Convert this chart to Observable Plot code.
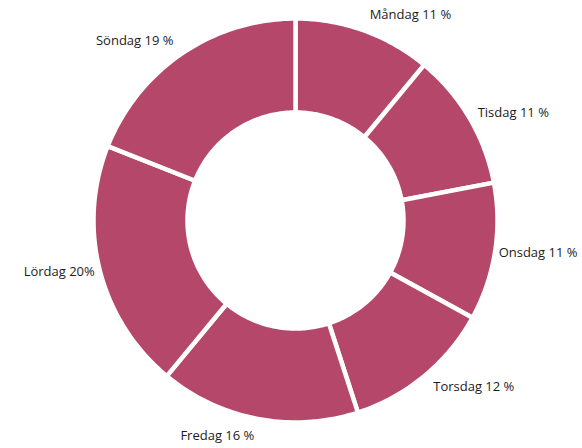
<!DOCTYPE html>
<html>
<head>
<meta charset="utf-8">
<script src="https://cdn.jsdelivr.net/npm/d3@7"></script>
<script src="https://cdn.jsdelivr.net/npm/@observablehq/plot@0.6"></script>
<style>
  html, body { margin: 0; padding: 0; background: #fff; }
  #chart { width: 582px; height: 448px; }
</style>
</head>
<body>
<div id="chart"></div>
<script>
// Data
const days = ["Måndag", "Tisdag", "Onsdag", "Torsdag", "Fredag", "Lördag", "Söndag"];
const shares = [11, 11, 11, 12, 16, 20, 19];
const labels = ["Måndag 11 %", "Tisdag 11 %", "Onsdag 11 %", "Torsdag 12 %", "Fredag 16 %", "Lördag 20%", "Söndag 19 %"];

// Geometry (chart units = pixels)
const R = 202, r = 108;
const total = d3.sum(shares);
const cum = d3.cumsum(shares);

const points = [];
const labelData = [];
days.forEach((day, i) => {
  const a0 = 2 * Math.PI * (cum[i] - shares[i]) / total;
  const a1 = 2 * Math.PI * cum[i] / total;
  const n = 60;
  const ring = [];
  for (let k = 0; k <= n; k++) {
    const a = a0 + (a1 - a0) * k / n;
    ring.push({day, x: R * Math.sin(a), y: -R * Math.cos(a)});
  }
  for (let k = n; k >= 0; k--) {
    const a = a0 + (a1 - a0) * k / n;
    ring.push({day, x: r * Math.sin(a), y: -r * Math.cos(a)});
  }
  ring.push({...ring[0]});
  points.push(...ring);
  const m = (a0 + a1) / 2;
  const lr = 203 + 17 * Math.abs(Math.cos(m));
  labelData.push({
    text: labels[i],
    x: lr * Math.sin(m),
    y: -lr * Math.cos(m),
    side: Math.sin(m) >= 0 ? "start" : "end"
  });
});

const color = "#b5476b";
const textStyle = {fontSize: 13, fill: "#1e1b1c"};

const chart = Plot.plot({
  width: 582,
  height: 448,
  margin: 0,
  style: {fontFamily: "'Open Sans', sans-serif", background: "#fff"},
  x: {domain: [-295, 287], range: [0, 582], axis: null},
  y: {domain: [-220, 228], range: [0, 448], axis: null},
  marks: [
    Plot.line(points, {x: "x", y: "y", z: "day", fill: color, stroke: "white", strokeWidth: 4.5, curve: "linear"}),
    Plot.text(labelData, {filter: d => d.side === "start", x: "x", y: "y", text: "text", textAnchor: "start", ...textStyle}),
    Plot.text(labelData, {filter: d => d.side === "end", x: "x", y: "y", text: "text", textAnchor: "end", ...textStyle})
  ]
});
document.getElementById("chart").appendChild(chart);
</script>
</body>
</html>
